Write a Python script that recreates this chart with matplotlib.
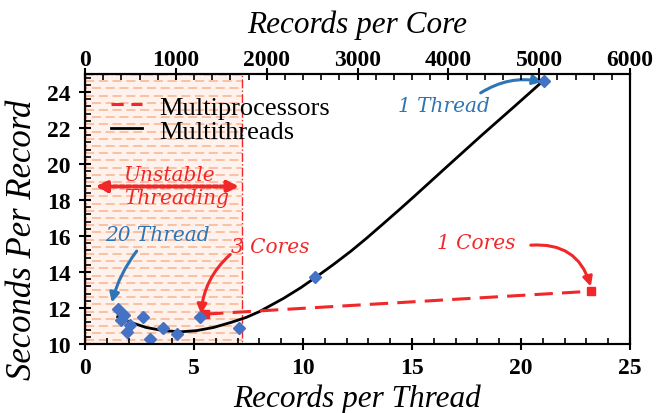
import numpy as np
import matplotlib
matplotlib.use("Agg")
import matplotlib.pyplot as plt
from matplotlib.lines import Line2D
from matplotlib.patches import Rectangle, FancyArrowPatch

# ---- data ----
thread_x = [1.53, 1.81, 1.65, 2.68, 2.07, 1.94, 3.60, 2.99, 4.21, 5.28, 7.05, 10.54, 21.06]
thread_y = [11.97, 11.60, 11.34, 11.49, 11.05, 10.65, 10.87, 10.28, 10.54, 11.49, 10.87, 13.70, 24.61]

trend_x = [1.5, 2.1, 2.8, 3.6, 4.4, 5.1, 5.9, 6.7, 7.4, 8.0, 9.1, 9.9, 10.6, 11.4,
           12.2, 12.9, 13.7, 14.5, 15.1, 16.6, 18.2, 19.7, 21.0]
trend_y = [11.51, 11.20, 10.92, 10.74, 10.68, 10.74, 10.92, 11.20, 11.48, 11.80, 12.53,
           13.13, 13.72, 14.42, 15.16, 15.86, 16.70, 17.55, 18.20, 19.85, 21.60, 23.20, 24.60]

proc_x = [5.51, 23.2]
proc_y = [11.66, 12.93]

unstable_limit = 7.2

thread_ticks = [0, 5, 10, 15, 20, 25]
core_ticks = [0, 1000, 2000, 3000, 4000, 5000, 6000]
y_ticks = [10, 12, 14, 16, 18, 20, 22, 24]

xlim_thread = (0, 25)
xlim_core = (0, 6000)
ylim = (10, 25)

RED = "#F0282A"
BLUE = "#2E75B6"
DIAMOND = "#4472C4"

plt.rcParams["font.family"] = ["Liberation Serif", "DejaVu Serif"]

fig = plt.figure(figsize=(6.56, 4.14), dpi=100)
ax = fig.add_axes([85/656, 1-345/414, 545/656, 270/414])

# unstable region
ax.add_patch(Rectangle((0, ylim[0]), unstable_limit, ylim[1]-ylim[0],
                       facecolor="#FFF1EC", edgecolor="none", zorder=0))
rows = np.arange(ylim[0] + 0.2, ylim[1], 0.4)
ax.hlines(rows[::2], 0, unstable_limit, colors="#F7B48F", linestyles=(0, (6, 3)), lw=1.1, zorder=0.5)
ax.hlines(rows[1::2], 0, unstable_limit, colors="#F7B48F", linestyles=(4.5, (6, 3)), lw=1.1, zorder=0.5)
ax.plot([0, unstable_limit, unstable_limit], [ylim[1], ylim[1], ylim[0]],
        color=RED, lw=1.0, ls="-.", zorder=1, clip_on=False)
ax.plot([0, 0], [ylim[0], ylim[1]], color=RED, lw=1.0, ls="-.", zorder=1)

# data
ax.plot(trend_x, trend_y, color="black", lw=2.0, zorder=3, solid_joinstyle="round")
ax.plot(proc_x, proc_y, color=RED, lw=2.2, ls=(0, (6, 3)), marker="s", ms=6, zorder=4)
ax.plot(thread_x, thread_y, ls="none", marker="D", ms=6, color=DIAMOND, zorder=5)

TICK_FS = 17
tick_font = dict(fontsize=TICK_FS, fontweight="bold", fontfamily="Liberation Serif")

ax.set_xlim(*xlim_thread)
ax.set_ylim(*ylim)
ax.set_xticks(thread_ticks, labels=[str(t) for t in thread_ticks], **tick_font)
ax.set_xticks(np.arange(0, 26, 1), minor=True)
ax.set_yticks(y_ticks, labels=[str(t) for t in y_ticks], **tick_font)
ax.set_yticks(np.arange(10, 25.01, 0.4), minor=True)

for sp in ax.spines.values():
    sp.set_linewidth(1.5)
ax.tick_params(which="major", direction="inout", length=9, width=1.5)
ax.tick_params(axis="x", which="major", pad=5)
ax.tick_params(axis="y", which="major", pad=6)
ax.tick_params(which="minor", direction="in", length=4, width=1.2)
ax.tick_params(axis="y", right=False)

ax.set_xlabel("Records per Thread", fontstyle="italic", fontsize=22.5, labelpad=4)
ax.set_ylabel("Seconds Per Record", fontstyle="italic", fontsize=25)
ax.yaxis.set_label_coords(-0.085, 0.39)

ax2 = ax.twiny()
ax2.set_xlim(*xlim_core)
ax2.set_xticks(core_ticks, labels=[str(t) for t in core_ticks], **tick_font)
ax2.set_xticks(np.arange(0, 6001, 200), minor=True)
ax2.tick_params(which="major", direction="inout", length=9, width=1.5, pad=-1.5)
ax2.tick_params(which="minor", direction="in", length=4, width=1.2)
for sp in ax2.spines.values():
    sp.set_linewidth(1.5)
ax2.set_xlabel("Records per Core", fontstyle="italic", fontsize=22.5, labelpad=12)

# legend
handles = [Line2D([], [], color=RED, lw=2.2, ls=(0, (4, 2.5))),
           Line2D([], [], color="black", lw=2.0)]
ax.legend(handles, ["Multiprocessors", "Multithreads"], loc="upper left",
          bbox_to_anchor=(0.005, 1.01), frameon=False, handlelength=1.15,
          handletextpad=0.65, labelspacing=0.02, prop={"size": 19})

# annotations
afont = dict(family="DejaVu Serif", style="italic", fontsize=14.5)
ax.text(3.86, 19.4, "Unstable", color=RED, ha="center", va="center", **afont)
ax.text(4.2, 18.15, "Threading", color=RED, ha="center", va="center", **afont)
ax.add_patch(FancyArrowPatch((0.35, 18.75), (unstable_limit, 18.75), arrowstyle="<|-|>",
                             mutation_scale=16, color=RED, lw=3, ls=(0, (1, 0.6)), zorder=6))

ax.text(3.33, 16.08, "20 Thread", color=BLUE, ha="center", va="center", **afont)
ax.annotate("", xy=(1.23, 12.3), xytext=(2.37, 15.16),
            arrowprops=dict(arrowstyle="-|>", color=BLUE, lw=2.2, mutation_scale=14,
                            connectionstyle="arc3,rad=0.1", shrinkA=0, shrinkB=0))

ax.text(8.5, 15.43, "3 Cores", color=RED, ha="center", va="center", **afont)
ax.annotate("", xy=(5.33, 11.66), xytext=(6.66, 14.97),
            arrowprops=dict(arrowstyle="-|>", color=RED, lw=2.2, mutation_scale=14,
                            connectionstyle="arc3,rad=0.2", shrinkA=0, shrinkB=0))

ax.text(17.95, 15.64, "1 Cores", color=RED, ha="center", va="center", **afont)
ax.annotate("", xy=(23.2, 13.19), xytext=(20.45, 15.49),
            arrowprops=dict(arrowstyle="-|>", color=RED, lw=2.2, mutation_scale=14,
                            connectionstyle="arc3,rad=-0.4", shrinkA=0, shrinkB=0))

ax.text(16.45, 23.27, "1 Thread", color=BLUE, ha="center", va="center", **afont)
ax.annotate("", xy=(20.98, 24.56), xytext=(18.15, 23.95),
            arrowprops=dict(arrowstyle="-|>", color=BLUE, lw=2.2, mutation_scale=14,
                            connectionstyle="arc3,rad=-0.2", shrinkA=0, shrinkB=0))

fig.savefig("out.png", dpi=100)
